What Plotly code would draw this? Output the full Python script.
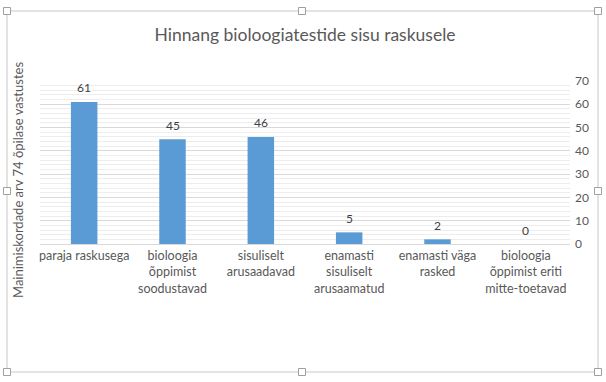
import plotly.graph_objects as go

categories = [
    "paraja raskusega",
    "bioloogia<br>õppimist<br>soodustavad",
    "sisuliselt<br>arusaadavad",
    "enamasti<br>sisuliselt<br>arusaamatud",
    "enamasti väga<br>rasked",
    "bioloogia<br>õppimist eriti<br>mitte-toetavad",
]
values = [61, 45, 46, 5, 2, 0]
title_text = "Hinnang bioloogiatestide sisu raskusele"
y_title = "Mainimiskordade arv 74 õpilase vastustes"

W, H = 606, 382
ml, mr, mt, mb = 40, 36, 81, 138
pw, ph = W - ml - mr, H - mt - mb

def px2paper(x, y):
    return (x - ml) / pw, (H - mb - y) / ph

FONT = "Lato"

fig = go.Figure()
fig.add_trace(go.Bar(
    x=list(range(len(categories))), y=values,
    marker=dict(color="#5B9BD5", line=dict(width=0)),
    width=0.3,
    hoverinfo="skip",
))

shapes = []
x0, y0 = px2paper(7, 372)
x1, y1 = px2paper(598, 11)
shapes.append(dict(type="rect", xref="paper", yref="paper", x0=x0, y0=y0, x1=x1, y1=y1,
                   line=dict(color="#c8c8c8", width=1), fillcolor="rgba(0,0,0,0)", layer="below"))
for hx, hy in [(7, 11), (302, 11), (598, 11), (7, 191), (598, 191), (7, 372), (302, 372), (598, 372)]:
    a0, b0 = px2paper(hx - 3.5, hy + 3.5)
    a1, b1 = px2paper(hx + 3.5, hy - 3.5)
    shapes.append(dict(type="rect", xref="paper", yref="paper", x0=a0, y0=b0, x1=a1, y1=b1,
                       line=dict(color="#a0a0a0", width=1), fillcolor="white"))

annotations = []
for i, v in enumerate(values):
    annotations.append(dict(x=i, y=v, xref="x", yref="y", text=str(v), showarrow=False,
                            xanchor="center", yanchor="middle", yshift=14,
                            font=dict(family=FONT, size=12, color="#404040")))

tx, ty = px2paper(18, 180)
annotations.append(dict(text=y_title, xref="paper", yref="paper", x=tx, y=ty,
                        showarrow=False, textangle=-90, xanchor="center", yanchor="middle",
                        font=dict(family=FONT, size=13, color="#595959")))

fig.update_layout(
    width=W, height=H,
    margin=dict(l=ml, r=mr, t=mt, b=mb, autoexpand=False),
    paper_bgcolor="white", plot_bgcolor="white",
    showlegend=False,
    title=dict(text=title_text, x=0.5, xref="paper", xanchor="center",
               y=1 - 35 / H, yref="container", yanchor="middle",
               font=dict(family=FONT, size=17.5, color="#595959")),
    xaxis=dict(
        tickmode="array", tickvals=list(range(len(categories))), ticktext=categories,
        range=[-0.5, len(categories) - 0.5],
        showgrid=False, showline=True, linecolor="#d9d9d9", linewidth=1,
        ticks="", tickfont=dict(family=FONT, size=12.5, color="#595959"),
        tickangle=0, zeroline=False, automargin=False,
    ),
    yaxis=dict(
        side="right", range=[0, 70], dtick=10, tick0=0,
        showgrid=True, gridcolor="#d9d9d9", gridwidth=1,
        minor=dict(dtick=2, showgrid=True, gridcolor="#ededed", gridwidth=1),
        zeroline=False, showline=False, ticks="",
        tickfont=dict(family=FONT, size=12, color="#595959"),
        ticklabelstandoff=4, automargin=False,
    ),
    shapes=shapes,
    annotations=annotations,
)

fig.write_html("out.html", config={"displayModeBar": False},
               post_script="document.body.style.margin='0';document.body.style.padding='0';")
